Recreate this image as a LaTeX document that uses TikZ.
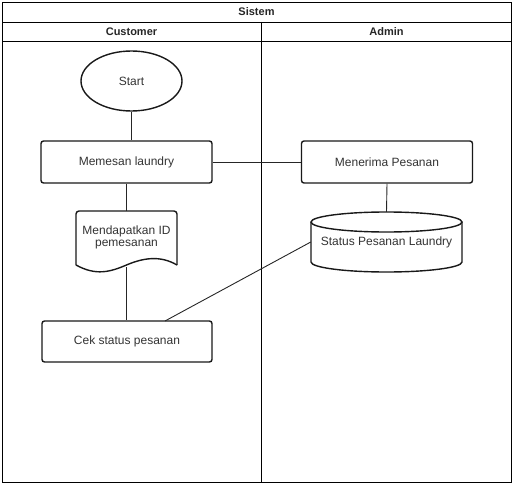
\documentclass[tikz,border=0pt]{standalone}
\usepackage{fontspec}
\setmainfont{Liberation Sans}
\usetikzlibrary{shapes.geometric}
\begin{document}
\begin{tikzpicture}[x=1pt,y=-1pt,
  lane/.style={draw=black,line width=0.9pt},
  hdr/.style={font=\fontsize{11}{13}\selectfont\bfseries,text=black!85},
  proc/.style={draw=black!90,line width=1.4pt,rounded corners=2.5pt,minimum width=171pt,minimum height=42pt,inner sep=0pt,font=\fontsize{12}{14}\selectfont,text=black!80},
  lbl/.style={font=\fontsize{12}{14}\selectfont,text=black!80,align=center},
  conn/.style={draw=black!85,line width=0.9pt},
  shp/.style={draw=black!90,line width=1.4pt}]
\useasboundingbox (0,0) rectangle (514,484);
% swimlanes
\draw[lane] (2,2) rectangle (511,482);
\draw[lane] (2,22) -- (511,22);
\draw[lane] (2,41.5) -- (511,41.5);
\draw[lane] (261.5,22) -- (261.5,482);
\node[hdr] (sistem) at (256.5,12) {Sistem};
\node[hdr] (cust) at (131.5,31.5) {Customer};
\node[hdr] (admin) at (386.5,31.5) {Admin};
% start
\node[shp,ellipse,minimum width=101pt,minimum height=60pt,inner sep=0pt,lbl] (start) at (131.5,81) {Start};
% processes
\node[proc] (pesan) at (126.5,162) {Memesan laundry};
\node[proc] (terima) at (387,162) {Menerima Pesanan};
\node[proc,minimum width=170pt,minimum height=41pt] (cek) at (127,341.5) {Cek status pesanan};
% document shape
\node[minimum width=101pt,minimum height=54pt,inner sep=0pt] (doc) at (126.5,238) {};
\draw[shp,rounded corners=3pt] (76,265) -- (76,211) -- (177,211) -- (177,265);
\draw[shp] (76,265) .. controls (96,276) and (110,272) .. (126.5,265)
  .. controls (143,258) and (160,255) .. (177,265);
\node[lbl] (doctext) at (126.5,237) {Mendapatkan ID\\[-2pt]pemesanan};
% cylinder
\node[minimum width=151pt,minimum height=60pt,inner sep=0pt] (db) at (386.5,242) {};
\draw[shp] (311,222) -- (311,262) arc[start angle=180,end angle=0,x radius=75.5,y radius=10] -- (462,222);
\draw[shp] (386.5,222) ellipse[x radius=75.5,y radius=10];
\node[lbl] (dbtext) at (386.5,242) {Status Pesanan Laundry};
% connectors
\coordinate (cekin) at (165,321);
\draw[conn] (start.south) -- (start.south |- pesan.north);
\draw[conn] (pesan.east) -- (terima.west);
\draw[conn] (pesan.south) -- (doc.north);
\draw[conn] (doc.south) ++(0,2) -- (cek.north -| doc.south);
\draw[conn] (terima.south) -- (db.north);
\draw[conn] (db.west) -- (cekin);
\end{tikzpicture}
\end{document}
